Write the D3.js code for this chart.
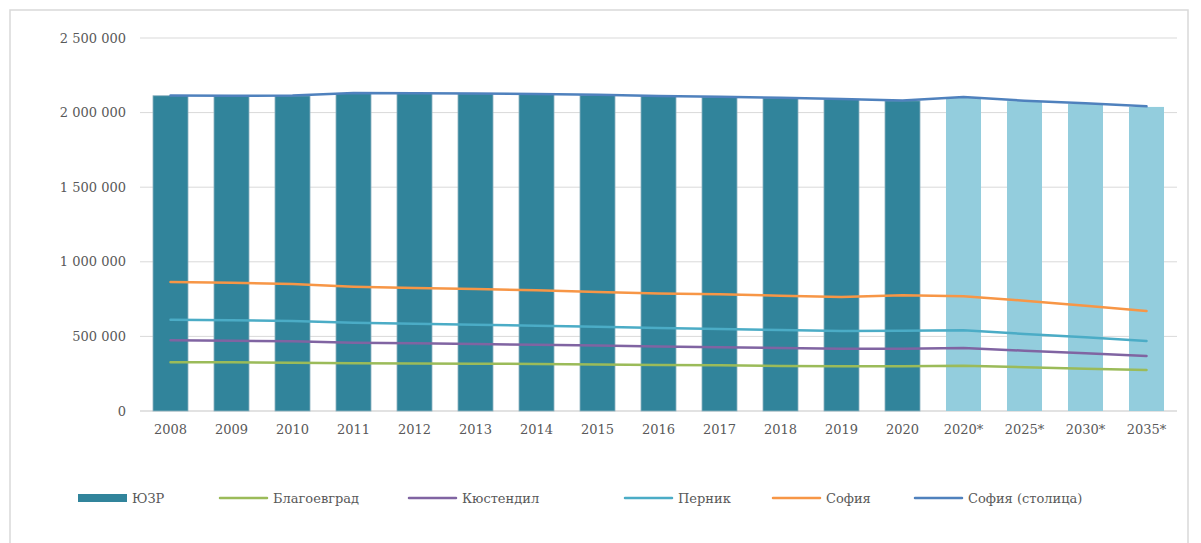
<!DOCTYPE html>
<html>
<head>
<meta charset="utf-8">
<script src="https://cdn.jsdelivr.net/npm/d3@7"></script>
<style>
  body { margin: 0; background: #fff; }
</style>
</head>
<body>
<svg id="chart"></svg>
<script>
const w = 1201;
const h = 543;

const categories = ["2008", "2009", "2010", "2011", "2012", "2013", "2014", "2015", "2016",
  "2017", "2018", "2019", "2020", "2020*", "2025*", "2030*", "2035*"];
const projected = ["2020*", "2025*", "2030*", "2035*"];

// bars: ЮЗР total
const yuzr = [2113000, 2111000, 2112000, 2129000, 2127000, 2126000, 2122000, 2117000, 2110000,
  2104000, 2097000, 2089000, 2079000, 2100000, 2077000, 2059000, 2038000];

// stacked (cumulative) lines as they appear in the chart
const blagoevgrad = [326000, 326000, 324000, 320000, 319000, 317000, 315000, 312000, 309000,
  306000, 302000, 300000, 300000, 304000, 293000, 284000, 275000];
const kyustendil = [474000, 471000, 467000, 458000, 454000, 449000, 444000, 439000, 433000,
  427000, 422000, 418000, 418000, 422000, 404000, 387000, 369000];
const pernik = [612000, 608000, 603000, 592000, 585000, 578000, 572000, 565000, 557000,
  550000, 543000, 536000, 538000, 541000, 516000, 494000, 469000];
const sofia = [865000, 860000, 851000, 833000, 824000, 818000, 809000, 798000, 788000,
  782000, 773000, 764000, 775000, 769000, 739000, 706000, 670000];
const sofiaCapital = [2115000, 2113000, 2114000, 2131000, 2129000, 2128000, 2124000, 2119000, 2112000,
  2106000, 2099000, 2091000, 2081000, 2104000, 2080000, 2062000, 2042000];

const yTicks = [0, 500000, 1000000, 1500000, 2000000, 2500000];

const lineSeries = [
  { name: "Благоевград", values: blagoevgrad, color: "#9BBB59" },
  { name: "Кюстендил", values: kyustendil, color: "#8064A2" },
  { name: "Перник", values: pernik, color: "#4BACC6" },
  { name: "София", values: sofia, color: "#F79646" },
  { name: "София (столица)", values: sofiaCapital, color: "#4F81BD" }
];

const barColor = "#31849B";
const barColorProj = "#93CDDD";
const textColor = "#595959";
const fontFamily = "'DejaVu Serif', serif";
const fontSize = "13px";

const svg = d3.select("#chart")
  .attr("width", w)
  .attr("height", h);

// outer chart frame
svg.append("rect")
  .attr("x", 10).attr("y", 10)
  .attr("width", 1178).attr("height", 560)
  .attr("fill", "none")
  .attr("stroke", "#d9d9d9")
  .attr("stroke-width", 1.5);

const xScale = d3.scaleBand()
  .domain(categories)
  .range([140, 1177])
  .paddingInner(0.426)
  .paddingOuter(0.213);

const yScale = d3.scaleLinear()
  .domain([0, 2500000])
  .range([411, 38]);

const locale = d3.formatLocale({ decimal: ",", thousands: " ", grouping: [3], currency: ["", ""] });
const fmt = locale.format(",");

function styleText(sel) {
  sel.style("font-family", fontFamily)
    .style("font-size", fontSize)
    .style("fill", textColor);
}

// gridlines
svg.append("g")
  .selectAll("line")
  .data(yTicks)
  .enter()
  .append("line")
  .attr("x1", 140)
  .attr("x2", 1177)
  .attr("y1", d => yScale(d))
  .attr("y2", d => yScale(d))
  .attr("stroke", "#d9d9d9")
  .attr("stroke-width", d => d === 0 ? 1.5 : 1);

// y axis labels
const yAxis = d3.axisLeft(yScale)
  .tickValues(yTicks)
  .tickFormat(fmt)
  .tickSize(0)
  .tickPadding(14);

svg.append("g")
  .attr("transform", "translate(140,0)")
  .call(yAxis)
  .call(g => g.select(".domain").remove())
  .call(g => g.selectAll("text").call(styleText));

// bars
svg.append("g")
  .selectAll("rect")
  .data(categories)
  .enter()
  .append("rect")
  .attr("x", d => xScale(d))
  .attr("y", (d, i) => yScale(yuzr[i]))
  .attr("width", xScale.bandwidth())
  .attr("height", (d, i) => yScale(0) - yScale(yuzr[i]))
  .attr("fill", d => projected.includes(d) ? barColorProj : barColor)
  .attr("stroke", d => projected.includes(d) ? "none" : "#8fb3c1")
  .attr("stroke-width", 0.8);

// x axis labels
const xAxis = d3.axisBottom(xScale)
  .tickSize(0)
  .tickPadding(14);

svg.append("g")
  .attr("transform", "translate(0,411)")
  .call(xAxis)
  .call(g => g.select(".domain").remove())
  .call(g => g.selectAll("text").call(styleText));

// lines
const line = d3.line()
  .x((d, i) => xScale(categories[i]) + xScale.bandwidth() / 2)
  .y(d => yScale(d));

svg.append("g")
  .selectAll("path")
  .data(lineSeries)
  .enter()
  .append("path")
  .attr("d", d => line(d.values))
  .attr("fill", "none")
  .attr("stroke", d => d.color)
  .attr("stroke-width", 2.5)
  .attr("stroke-linejoin", "round")
  .attr("stroke-linecap", "round");

// legend
const legendY = 498;
const legendItems = [
  { name: "ЮЗР", color: barColor, type: "bar", x: 78 },
  { name: "Благоевград", color: "#9BBB59", type: "line", x: 219 },
  { name: "Кюстендил", color: "#8064A2", type: "line", x: 408 },
  { name: "Перник", color: "#4BACC6", type: "line", x: 624 },
  { name: "София", color: "#F79646", type: "line", x: 772 },
  { name: "София (столица)", color: "#4F81BD", type: "line", x: 914 }
];

const legend = svg.append("g")
  .selectAll("g")
  .data(legendItems)
  .enter()
  .append("g")
  .attr("transform", d => `translate(${d.x},${legendY})`);

legend.filter(d => d.type === "bar")
  .append("rect")
  .attr("x", 0).attr("y", -4)
  .attr("width", 49).attr("height", 8)
  .attr("fill", d => d.color);

legend.filter(d => d.type === "line")
  .append("line")
  .attr("x1", 1).attr("x2", 48)
  .attr("y1", 0).attr("y2", 0)
  .attr("stroke", d => d.color)
  .attr("stroke-width", 2.5)
  .attr("stroke-linecap", "round");

legend.append("text")
  .attr("x", 54)
  .attr("y", 0)
  .attr("dy", "0.35em")
  .call(styleText)
  .text(d => d.name);
</script>
</body>
</html>
